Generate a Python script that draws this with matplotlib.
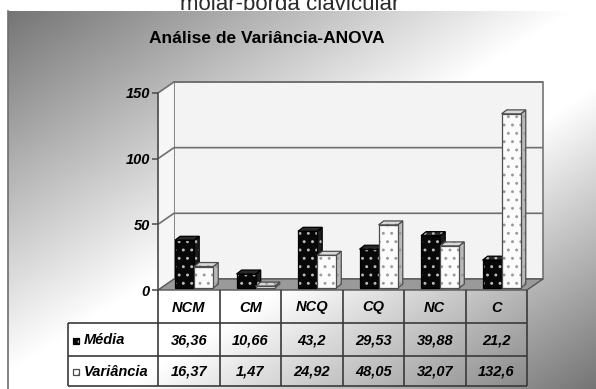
import matplotlib

matplotlib.use("Agg")
import matplotlib.pyplot as plt
import numpy as np
from matplotlib.lines import Line2D
from matplotlib.patches import Polygon, Rectangle

categories = ["NCM", "CM", "NCQ", "CQ", "NC", "C"]
media = [36.36, 10.66, 43.2, 29.53, 39.88, 21.2]
variancia = [16.37, 1.47, 24.92, 48.05, 32.07, 132.6]
series_labels = ["Média", "Variância"]
y_ticks = [0, 50, 100, 150]
title = "Análise de Variância-ANOVA"
caption = "molar-borda clavicular"

W, H = 596, 389
SANS = ["Liberation Sans", "DejaVu Sans"]
plt.rcParams["hatch.linewidth"] = 0.9

fig = plt.figure(figsize=(W / 100, H / 100), dpi=100, facecolor="white")

# diagonal grey -> white -> grey fill of the chart area
bg = fig.add_axes([8 / W, 0, (W - 8) / W, (H - 11) / H])
bg.set_axis_off()
gx, gy = np.meshgrid(np.linspace(0, 1, 300), np.linspace(0, 1, 200))
t = (gx + gy) / 2
shade = np.interp(t, [0, 0.48, 0.6, 1], [0.46, 1.0, 1.0, 0.46])
bg.imshow(shade, cmap="gray", vmin=0, vmax=1, aspect="auto",
          extent=[0, 1, 1, 0], interpolation="bilinear")
bg.set_xlim(0, 1)
bg.set_ylim(1, 0)
fig.add_artist(Line2D([8 / W, 8 / W], [0, (H - 11) / H], color="#6e6e6e",
                      lw=1.2, transform=fig.transFigure))

fig.text(290 / W, 1 - 9.5 / H, caption, ha="center", va="baseline",
         fontsize=16, color="#2a2a2a", family=SANS)
fig.text(267 / W, 1 - 43 / H, title, ha="center", va="baseline",
         fontsize=12.5, fontweight="bold", family=SANS)

# plot box in pixels: front axis at x=158, floor front edge at y=290
AX_L, AX_R, AX_T, AX_B = 158, 527, 93, 290
ax = fig.add_axes([AX_L / W, 1 - AX_B / H, (AX_R - AX_L) / W, (AX_B - AX_T) / H])
ax.set_xlim(0, len(categories))
ax.set_ylim(0, 150)
ax.patch.set_visible(False)
for side in ("top", "right", "bottom"):
    ax.spines[side].set_visible(False)
ax.spines["left"].set_color("#4a4a4a")
ax.spines["left"].set_linewidth(1.2)
ax.set_xticks([])
ax.set_yticks(y_ticks)
ax.set_yticklabels([str(v) for v in y_ticks])
ax.tick_params(axis="y", length=4, width=1.1, color="#4a4a4a", pad=2)
for lab in ax.get_yticklabels():
    lab.set_fontweight("bold")
    lab.set_fontstyle("italic")
    lab.set_fontsize(10.5)
    lab.set_family(SANS)

# depth of the walls and of each column, in data units
DX, DY = 0.26, 8.4
n = len(categories)


def poly(verts, z, **kw):
    ax.add_patch(Polygon(verts, closed=True, zorder=z, clip_on=False, **kw))


# back wall, side wall and floor
poly([(DX, DY), (n + DX, DY), (n + DX, 150 + DY), (DX, 150 + DY)], 0.5,
     facecolor="#f3f3f3", edgecolor="#6a6a6a", lw=1.1)
poly([(0, 0), (DX, DY), (DX, 150 + DY), (0, 150)], 0.5,
     facecolor="#f6f6f6", edgecolor="none")
for v in y_ticks[1:]:
    ax.plot([0, DX, n + DX], [v, v + DY, v + DY], color="#6f6f6f", lw=1.2,
            zorder=0.8, clip_on=False, solid_capstyle="butt")
poly([(0, 0), (n, 0), (n + DX, DY), (DX, DY)], 0.9,
     facecolor="#9a9a9a", edgecolor="#555555", lw=1.0)


def dotted(verts, face, dots, edge, z):
    poly(verts, z, facecolor=face, edgecolor="none", lw=0)
    poly(verts, z + 0.001, fill=False, hatch="..", edgecolor=dots, lw=0)
    poly(verts, z + 0.002, fill=False, edgecolor=edge, lw=0.9)


def column(x0, x1, h, colors, z):
    ox, oy = 0.18 * DX, 0.18 * DY
    bx, by = 0.32 * DX, 0.36 * DY
    a, b = x0 + ox, x1 + ox
    front = [(a, oy), (b, oy), (b, h + oy), (a, h + oy)]
    right = [(b, oy), (b + bx, oy + by), (b + bx, h + oy + by), (b, h + oy)]
    top = [(a, h + oy), (b, h + oy), (b + bx, h + oy + by), (a + bx, h + oy + by)]
    dotted(right, colors["side"], colors["dots"], colors["edge"], z)
    dotted(top, colors["top"], colors["dots"], colors["edge"], z + 0.01)
    dotted(front, colors["front"], colors["dots"], colors["edge"], z + 0.02)


dark = {"front": "#080808", "side": "#1c1c1c", "top": "#2a2a2a",
        "dots": "#bdbdbd", "edge": "#000000"}
light = {"front": "#fbfbfb", "side": "#b9b9b9", "top": "#d9d9d9",
         "dots": "#9a9a9a", "edge": "#4d4d4d"}

for i in range(n):
    column(i + 0.23, i + 0.54, media[i], dark, 3 + i * 0.2)
    column(i + 0.54, i + 0.85, variancia[i], light, 3.1 + i * 0.2)


# data table under the floor, laid out in pixels and drawn in axes fractions
def fx(px):
    return (px - AX_L) / (AX_R - AX_L)


def fy(py):
    return (AX_B - py) / (AX_B - AX_T)


TBL_L = 68
rows_px = [AX_B, 323, 356, 386]
col_px = [AX_L + (AX_R - AX_L) * j / n for j in range(n + 1)]
line_kw = dict(color="#3a3a3a", lw=1.2, transform=ax.transAxes, clip_on=False,
               zorder=6, solid_capstyle="butt")
for py in rows_px[1:]:
    ax.plot([fx(TBL_L), fx(AX_R)], [fy(py), fy(py)], **line_kw)
ax.plot([fx(TBL_L), fx(TBL_L)], [fy(rows_px[1]), fy(rows_px[3])], **line_kw)
for px in col_px:
    ax.plot([fx(px), fx(px)], [fy(rows_px[0]), fy(rows_px[3])], **line_kw)

txt_kw = dict(transform=ax.transAxes, fontsize=10.5, fontweight="bold",
              fontstyle="italic", family=SANS, va="center", zorder=7,
              clip_on=False)
row_mid = [(rows_px[k] + rows_px[k + 1]) / 2 + 1 for k in range(3)]
for j, cat in enumerate(categories):
    ax.text(fx((col_px[j] + col_px[j + 1]) / 2), fy(row_mid[0]), cat,
            ha="center", **txt_kw)
for k, (label, vals, colors) in enumerate(
        zip(series_labels, [media, variancia], [dark, light]), start=1):
    ax.text(fx(84), fy(row_mid[k]), label, ha="left", **txt_kw)
    for j, v in enumerate(vals):
        ax.text(fx((col_px[j] + col_px[j + 1]) / 2), fy(row_mid[k]),
                f"{v:g}".replace(".", ","), ha="center", **txt_kw)
    # legend key in front of the row label
    kx, ky, ks = fx(73), fy(row_mid[k] + 3), 6
    for kw in ({"facecolor": colors["front"], "edgecolor": "none"},
               {"fill": False, "hatch": "..", "edgecolor": colors["dots"], "lw": 0},
               {"fill": False, "edgecolor": colors["edge"], "lw": 0.9}):
        ax.add_patch(Rectangle((kx, ky), ks / (AX_R - AX_L), ks / (AX_B - AX_T),
                               transform=ax.transAxes, clip_on=False,
                               zorder=7, **kw))

fig.savefig("out.png", dpi=100, facecolor=fig.get_facecolor())
